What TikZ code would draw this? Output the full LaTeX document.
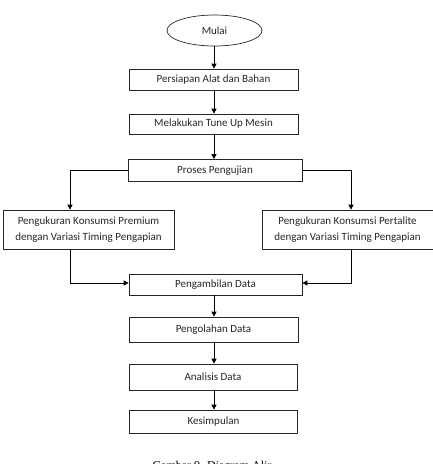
\documentclass[tikz,border=0pt]{standalone}
\usepackage{fontspec}
\setmainfont{Carlito}
\newfontfamily\capfont{Liberation Serif}
\usetikzlibrary{arrows.meta,shapes.geometric}
\tikzset{
  box/.style={draw=black!85, line width=0.7pt, rectangle, inner sep=0pt, align=center,
    font=\fontsize{11}{16}\selectfont, text=black!85},
  oval/.style={draw=black!85, line width=0.7pt, ellipse, inner sep=0pt,
    font=\fontsize{11}{16}\selectfont, text=black!85},
  arr/.style={draw=black, line width=0.8pt, -{Triangle[length=5pt,width=5pt]}}
}
\begin{document}
\begin{tikzpicture}[x=1pt,y=-1pt]
\useasboundingbox (0,0) rectangle (433,464);
\node[oval, minimum width=95pt, minimum height=31pt] (mulai) at (214.5,30.5) {Mulai};
\node[box, minimum width=169pt, minimum height=21pt] (b1) at (213.5,79.5) {Persiapan Alat dan Bahan};
\node[box, minimum width=169pt, minimum height=20pt] (b2) at (213.5,124) {Melakukan Tune Up Mesin};
\node[box, minimum width=174pt, minimum height=22pt] (b3) at (215,170.5) {Proses Pengujian};
\node[box, minimum width=171pt, minimum height=39pt] (left) at (88.5,229.5) {Pengukuran Konsumsi Premium\\dengan Variasi Timing Pengapian};
\node[box, minimum width=171pt, minimum height=39pt] (right) at (347.5,229.5) {Pengukuran Konsumsi Pertalite\\dengan Variasi Timing Pengapian};
\node[box, minimum width=173pt, minimum height=21pt] (b4) at (215.5,284.5) {Pengambilan Data};
\node[box, minimum width=169pt, minimum height=25pt] (b5) at (213.5,329.5) {Pengolahan Data};
\node[box, minimum width=168pt, minimum height=26pt] (b6) at (213,377) {Analisis Data};
\node[box, minimum width=168.5pt, minimum height=23pt] (b7) at (213.5,421.5) {Kesimpulan};
\node[anchor=base, font=\capfont\fontsize{12}{14}\selectfont, inner sep=0pt] (cap) at (212,469) {Gambar 9. Diagram Alir};
\coordinate (cx) at (214,0);
\draw[arr] (mulai.south -| cx) -- (b1.north -| cx);
\draw[arr] (b1.south -| cx) -- (b2.north -| cx);
\draw[arr] (b2.south -| cx) -- (b3.north -| cx);
\draw[arr] (b4.south -| cx) -- (b5.north -| cx);
\draw[arr] (b5.south -| cx) -- (b6.north -| cx);
\draw[arr] (b6.south -| cx) -- (b7.north -| cx);
\draw[arr] (b3.west) -| ([xshift=-18.5pt]left.north);
\draw[arr] (b3.east) -| ([xshift=3.5pt]right.north);
\draw[arr] ([xshift=-18.5pt]left.south) |- ([yshift=1.5pt]b4.west);
\draw[arr] ([xshift=3.5pt]right.south) |- ([yshift=1.5pt]b4.east);
\end{tikzpicture}
\end{document}
